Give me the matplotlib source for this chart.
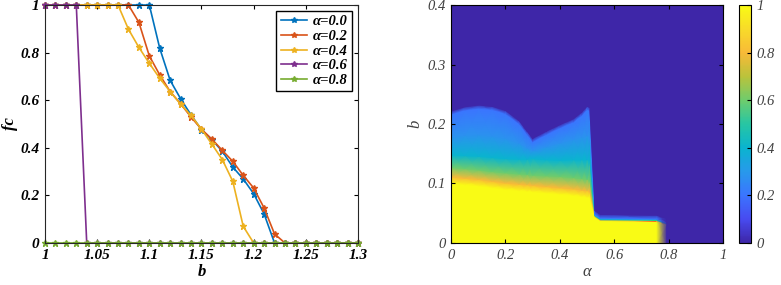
import numpy as np
import matplotlib
matplotlib.use('Agg')
import matplotlib.pyplot as plt
from matplotlib.colors import LinearSegmentedColormap
from matplotlib.ticker import FuncFormatter

plt.rcParams['font.family'] = ['Liberation Serif', 'DejaVu Serif']

# ---- left panel: fc vs b ----
b_values = [1.00, 1.01, 1.02, 1.03, 1.04, 1.05, 1.06, 1.07, 1.08, 1.09, 1.10,
            1.11, 1.12, 1.13, 1.14, 1.15, 1.16, 1.17, 1.18, 1.19, 1.20,
            1.21, 1.22, 1.23, 1.24, 1.25, 1.26, 1.27, 1.28, 1.29, 1.30]
fc_a00 = [1, 1, 1, 1, 1, 1, 1, 1, 1, 1, 1,
          0.818, 0.683, 0.606, 0.538, 0.476, 0.434, 0.385, 0.319, 0.269, 0.207,
          0.122, 0, 0, 0, 0, 0, 0, 0, 0, 0]
fc_a02 = [1, 1, 1, 1, 1, 1, 1, 1, 1, 0.927, 0.786,
          0.706, 0.636, 0.585, 0.529, 0.478, 0.436, 0.389, 0.343, 0.284, 0.231,
          0.147, 0.038, 0, 0, 0, 0, 0, 0, 0, 0]
fc_a04 = [1, 1, 1, 1, 1, 1, 1, 1, 0.898, 0.822, 0.755,
          0.692, 0.636, 0.583, 0.536, 0.478, 0.415, 0.350, 0.259, 0.070, 0,
          0, 0, 0, 0, 0, 0, 0, 0, 0, 0]
fc_a06 = [1, 1, 1, 1, 0, 0, 0, 0, 0, 0, 0,
          0, 0, 0, 0, 0, 0, 0, 0, 0, 0,
          0, 0, 0, 0, 0, 0, 0, 0, 0, 0]
fc_a08 = [0, 0, 0, 0, 0, 0, 0, 0, 0, 0, 0,
          0, 0, 0, 0, 0, 0, 0, 0, 0, 0,
          0, 0, 0, 0, 0, 0, 0, 0, 0, 0]
series = [fc_a00, fc_a02, fc_a04, fc_a06, fc_a08]
labels = ['α=0.0', 'α=0.2', 'α=0.4', 'α=0.6', 'α=0.8']
colors = ['#0072BD', '#D95319', '#EDB120', '#7E2F8E', '#77AC30']

# ---- right panel: fc over (alpha, b), given as heights of colour levels ----
alpha_nodes = [0.00, 0.05, 0.10, 0.15, 0.20, 0.25, 0.28, 0.30, 0.35, 0.40,
               0.45, 0.48, 0.50, 0.51, 0.53, 0.55, 0.756, 0.793, 1.00]
b_yellow = [0.100, 0.098, 0.096, 0.093, 0.090, 0.088, 0.087, 0.086, 0.084, 0.082,
            0.080, 0.078, 0.077, 0.076, 0.043, 0.037, 0.036, 0.030, 0.030]
b_orange = [0.111, 0.109, 0.107, 0.104, 0.101, 0.099, 0.098, 0.097, 0.095, 0.093,
            0.091, 0.089, 0.088, 0.087, 0.044, 0.038, 0.037, 0.031, 0.031]
b_green = [0.127, 0.125, 0.123, 0.120, 0.118, 0.116, 0.115, 0.114, 0.113, 0.112,
           0.110, 0.108, 0.107, 0.106, 0.045, 0.039, 0.038, 0.032, 0.032]
b_teal = [0.148, 0.147, 0.146, 0.144, 0.142, 0.141, 0.141, 0.142, 0.140, 0.139,
          0.140, 0.140, 0.140, 0.140, 0.046, 0.040, 0.039, 0.033, 0.033]
b_light = [0.178, 0.181, 0.182, 0.180, 0.176, 0.168, 0.160, 0.156, 0.162, 0.168,
           0.174, 0.178, 0.180, 0.180, 0.047, 0.041, 0.040, 0.034, 0.034]
b_edge = [0.216, 0.223, 0.226, 0.224, 0.217, 0.200, 0.182, 0.170, 0.182, 0.193,
          0.203, 0.214, 0.224, 0.222, 0.048, 0.042, 0.041, 0.035, 0.035]
level_vals = [1.0, 1.0, 0.8, 0.6, 0.4, 0.28, 0.2, 0.0, 0.0]
coop = [1, 1, 1, 1, 1, 1, 1, 1, 1, 1, 1, 1, 1, 1, 1, 1, 1, 0, 0]

parula = LinearSegmentedColormap.from_list('parula', [
    (0.2422, 0.1504, 0.6603), (0.2810, 0.2928, 0.9418), (0.2305, 0.4590, 0.9990),
    (0.1540, 0.6021, 0.9218), (0.0400, 0.7050, 0.8100), (0.1540, 0.7755, 0.6397),
    (0.4310, 0.8000, 0.4280), (0.7290, 0.7640, 0.2320), (0.9720, 0.7280, 0.2200),
    (0.9730, 0.8590, 0.1620), (0.9769, 0.9839, 0.0805)])

fig = plt.figure(figsize=(7.81, 2.85), dpi=100)
g = FuncFormatter(lambda v, p: f'{v:g}')

ax1 = fig.add_axes([0.0576, 0.1474, 0.4008, 0.835])
for y, lab, c in zip(series, labels, colors):
    ax1.plot(b_values, y, '-*', color=c, lw=1.2, ms=5, label=lab, clip_on=False)
ax1.set_xlim(1, 1.3)
ax1.set_ylim(0, 1)
ax1.set_xticks([1, 1.05, 1.1, 1.15, 1.2, 1.25, 1.3])
ax1.set_yticks([0, 0.2, 0.4, 0.6, 0.8, 1])
ax1.xaxis.set_major_formatter(g)
ax1.yaxis.set_major_formatter(g)
ax1.tick_params(direction='in', top=True, right=True, length=3, labelsize=11, pad=4)
for t in ax1.get_xticklabels() + ax1.get_yticklabels():
    t.set_fontweight('bold')
    t.set_fontstyle('italic')
ax1.set_xlabel('b', fontsize=12, fontweight='bold', style='italic', labelpad=2)
ax1.set_ylabel('fc', fontsize=12, fontweight='bold', style='italic', labelpad=2)
for s in ax1.spines.values():
    s.set_color('0.15')
leg = ax1.legend(loc='upper right', handlelength=1.8, labelspacing=0.1,
                 borderpad=0.3, handletextpad=0.4, fancybox=False, framealpha=1,
                 edgecolor='black', borderaxespad=0.4, markerscale=0.8,
                 prop={'weight': 'bold', 'style': 'italic', 'size': 10.5})
leg.get_frame().set_linewidth(1.0)

ax2 = fig.add_axes([0.5775, 0.1474, 0.3483, 0.835])
rows = [np.zeros(len(alpha_nodes)), b_yellow, b_orange, b_green, b_teal, b_light, b_edge,
        np.array(b_edge) + 0.006, np.full(len(alpha_nodes), 0.4)]
Y = np.array(rows)
X = np.tile(alpha_nodes, (len(rows), 1))
C = np.outer(level_vals, coop)
mesh = ax2.pcolormesh(X, Y, C, shading='gouraud', cmap=parula, vmin=0, vmax=1)
ax2.set_xlim(0, 1)
ax2.set_ylim(0, 0.4)
ax2.set_xticks([0, 0.2, 0.4, 0.6, 0.8, 1])
ax2.set_yticks([0, 0.1, 0.2, 0.3, 0.4])
ax2.xaxis.set_major_formatter(g)
ax2.yaxis.set_major_formatter(g)
ax2.tick_params(direction='in', top=True, right=True, length=3, labelsize=10.5,
                labelcolor='0.25', pad=4)
for t in ax2.get_xticklabels() + ax2.get_yticklabels():
    t.set_fontstyle('italic')
ax2.set_xlabel('α', fontsize=12, style='italic', color='0.25', labelpad=2)
ax2.set_ylabel('b', fontsize=12, style='italic', color='0.25', labelpad=3)

cax = fig.add_axes([0.9462, 0.1474, 0.0154, 0.835])
cb = fig.colorbar(mesh, cax=cax, ticks=[0, 0.2, 0.4, 0.6, 0.8, 1], format=g)
cb.outline.set_linewidth(0.8)
cax.tick_params(direction='in', length=3, labelsize=10.5, labelcolor='0.25', pad=4)
for t in cax.get_yticklabels():
    t.set_fontstyle('italic')

fig.savefig('out.png', dpi=100)
